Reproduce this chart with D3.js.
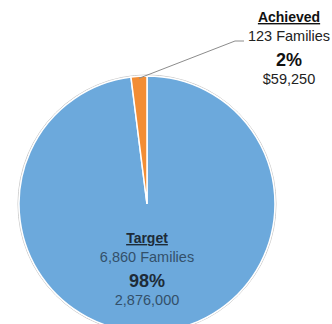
<!DOCTYPE html>
<html>
<head>
<meta charset="utf-8">
<script src="https://cdn.jsdelivr.net/npm/d3@7"></script>
<style>
  body { margin: 0; background: #fff; }
  svg { display: block; font-family: 'Liberation Sans', Arial, sans-serif; }
</style>
</head>
<body>
<script>
// chart data
const categories = ['Target', 'Achieved']
const shares = [98, 2]
const families = ['6,860 Families', '123 Families']
const amounts = ['2,876,000', '$59,250']
const colors = ['#6CA9DC', '#F28D35']

const w = 332
const h = 324
const cx = 147
const cy = 204
const r = 128

const svg = d3.select('body')
    .append('svg')
    .attr('width', w)
    .attr('height', h)

const g = svg.append('g')
    .attr('transform', `translate(${cx},${cy})`)

const pie = d3.pie().sort(null).value(d => d)
const arcs = pie(shares)
const arc = d3.arc().innerRadius(0).outerRadius(r)

// faint outline round the pie
g.append('circle')
    .attr('r', r + 1)
    .style('fill', 'none')
    .style('stroke', '#c8c8c8')
    .style('stroke-width', 1)

g.selectAll('path')
    .data(arcs)
    .enter()
    .append('path')
    .attr('d', arc)
    .style('fill', (d, i) => colors[i])
    .style('stroke', '#fff')
    .style('stroke-width', 1.5)

// leader line for the small slice
const a = arcs[1]
const mid = (a.startAngle + a.endAngle) / 2
const p0 = [cx + Math.sin(mid) * (r - 2), cy - Math.cos(mid) * (r - 2)]
svg.append('polyline')
    .attr('points', [p0, [235, 41], [244, 41]].map(p => p.join(',')).join(' '))
    .style('fill', 'none')
    .style('stroke', '#8c8c8c')
    .style('stroke-width', 1)

// labels
function label(x, y, i, dark, mid) {
    const t = svg.append('g').attr('transform', `translate(${x},${y})`)
    t.append('text')
        .attr('text-anchor', 'middle')
        .style('font-weight', 'bold')
        .style('font-size', '14px')
        .style('text-decoration', 'underline')
        .style('fill', dark)
        .text(categories[i])
    t.append('text')
        .attr('y', 19)
        .attr('text-anchor', 'middle')
        .style('font-size', '14.5px')
        .style('fill', mid)
        .text(families[i])
    t.append('text')
        .attr('y', 44)
        .attr('text-anchor', 'middle')
        .style('font-weight', 'bold')
        .style('font-size', '18px')
        .style('fill', dark)
        .text(shares[i] + '%')
    t.append('text')
        .attr('y', 62)
        .attr('text-anchor', 'middle')
        .style('font-size', '14.5px')
        .style('fill', mid)
        .text(amounts[i])
}

label(cx, 243, 0, '#1d2b38', '#33506a')
label(289, 22, 1, '#111', '#222')
</script>
</body>
</html>
